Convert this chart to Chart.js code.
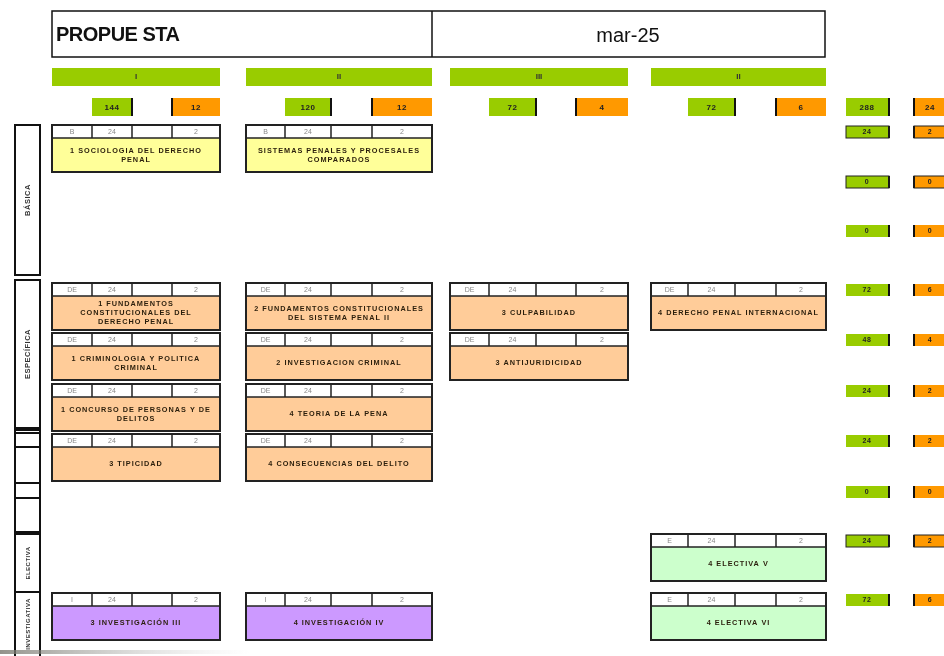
<!DOCTYPE html>
<html><head><meta charset="utf-8">
<script src="https://cdn.jsdelivr.net/npm/chart.js@4"></script>
<style>html,body{margin:0;padding:0;background:#fff}canvas{display:block}</style>
</head><body>
<canvas id="c" width="944" height="656"></canvas>
<script>
// ---------- DATA ----------
const titleLeft = 'PROPUE STA';
const titleRight = 'mar-25';
const semesters = ['I', 'II', 'III', 'II'];
const semesterHours = [144, 120, 72, 72];
const semesterCredits = [12, 12, 4, 6];
const totalHours = 288;
const totalCredits = 24;
const rowHours = [24, 0, 0, 72, 48, 24, 24, 0, 24, 72];
const rowCredits = [2, 0, 0, 6, 4, 2, 2, 0, 2, 6];
const areaNames = ['BÁSICA', 'ESPECÍFICA', '', '', '', 'ELECTIVA', 'INVESTIGATIVA'];
const courseNames = [
  '1 SOCIOLOGIA DEL DERECHO\nPENAL',
  'SISTEMAS PENALES Y PROCESALES\nCOMPARADOS',
  '1 FUNDAMENTOS\nCONSTITUCIONALES DEL\nDERECHO PENAL',
  '2 FUNDAMENTOS CONSTITUCIONALES\nDEL SISTEMA PENAL II',
  '3 CULPABILIDAD',
  '4 DERECHO PENAL INTERNACIONAL',
  '1 CRIMINOLOGIA Y POLITICA\nCRIMINAL',
  '2 INVESTIGACION CRIMINAL',
  '3 ANTIJURIDICIDAD',
  '1 CONCURSO DE PERSONAS Y DE\nDELITOS',
  '4 TEORIA DE LA PENA',
  '3 TIPICIDAD',
  '4 CONSECUENCIAS DEL DELITO',
  '4 ELECTIVA V',
  '3 INVESTIGACIÓN III',
  '4 INVESTIGACIÓN IV',
  '4 ELECTIVA VI'
];
const courseSemester = [0, 1, 0, 1, 2, 3, 0, 1, 2, 0, 1, 0, 1, 3, 0, 1, 3];
const courseRow      = [0, 0, 3, 3, 3, 3, 4, 4, 4, 5, 5, 6, 6, 8, 9, 9, 9];
const courseType     = ['B','B','DE','DE','DE','DE','DE','DE','DE','DE','DE','DE','DE','E','I','I','E'];
const courseHours    = [24, 24, 24, 24, 24, 24, 24, 24, 24, 24, 24, 24, 24, 24, 24, 24, 24];
const courseCredits  = [2, 2, 2, 2, 2, 2, 2, 2, 2, 2, 2, 2, 2, 2, 2, 2, 2];

// ---------- LAYOUT / STYLE (not data) ----------
const colEdges = [[52,92,132,172,220],[246,285,331,372,432],[450,489,536,576,628],[651,688,735,776,826]];
const rowTops = [125,175,224,283,333,384,434,485,534,593];
const areaBoxes = [[125,275],[280,428],[430,433],[433,447],[447,483],[534,592],[592,660]];
const extraLines = [[483,498],[498,532]];
const typeFill = {B:'#FFFF99', DE:'#FFCC99', E:'#CCFFCC', I:'#CC99FF'};
const GREEN = '#99CC00', ORANGE = '#FF9900';
const NARROW = "'Liberation Sans Narrow','Liberation Sans',Arial,sans-serif";

const gridPlugin = {
  id: 'curriculumGrid',
  afterDraw(chart) {
    const ctx = chart.ctx;
    const xs = chart.scales.x, ys = chart.scales.y;
    const X = v => xs.getPixelForValue(v);
    const Y = v => ys.getPixelForValue(v);
    const rect = (x0, y0, x1, y1, fill, stroke, lw) => {
      const px = X(x0), py = Y(y0), w = X(x1) - px, h = Y(y1) - py;
      if (fill) { ctx.fillStyle = fill; ctx.fillRect(px, py, w, h); }
      if (stroke) { ctx.strokeStyle = stroke; ctx.lineWidth = lw || 1; ctx.strokeRect(px, py, w, h); }
    };
    const line = (x0, y0, x1, y1, c, lw) => {
      ctx.beginPath(); ctx.moveTo(X(x0), Y(y0)); ctx.lineTo(X(x1), Y(y1));
      ctx.strokeStyle = c; ctx.lineWidth = lw; ctx.stroke();
    };
    const text = (t, x, y, font, color, align, ls) => {
      ctx.font = font; ctx.fillStyle = color; ctx.textAlign = align || 'center';
      ctx.textBaseline = 'middle'; ctx.letterSpacing = ls || '0px';
      ctx.fillText(t, X(x), Y(y));
      ctx.letterSpacing = '0px';
    };
    ctx.save();
    // Title
    rect(52, 11, 825, 57, null, '#111', 1.5);
    line(432, 11, 432, 57, '#111', 1.5);
    text(titleLeft, 56, 35, "bold 20px " + NARROW, '#111', 'left', '-0.5px');
    text(titleRight, 628, 36, "20px " + NARROW, '#111', 'center');

    // Semester bars and totals
    semesters.forEach((s, i) => {
      const e = colEdges[i];
      rect(e[0], 68, e[4], 86, GREEN);
      text(s, (e[0] + e[4]) / 2, 77, "bold 8px " + NARROW, '#333');
      rect(e[1], 98, e[2], 116, GREEN);
      line(e[2], 98, e[2], 116, '#111', 2);
      text(String(semesterHours[i]), (e[1] + e[2]) / 2, 107.5, "bold 8px " + NARROW, '#222', 'center', '0.5px');
      rect(e[3], 98, e[4], 116, ORANGE);
      line(e[3], 98, e[3], 116, '#111', 2);
      text(String(semesterCredits[i]), (e[3] + e[4]) / 2, 107.5, "bold 8px " + NARROW, '#222', 'center', '0.5px');
    });
    // Grand totals
    rect(846, 98, 889, 116, GREEN); line(889, 98, 889, 116, '#111', 2);
    text(String(totalHours), 867, 107.5, "bold 8px " + NARROW, '#222', 'center', '0.5px');
    rect(914, 98, 960, 116, ORANGE); line(914, 98, 914, 116, '#111', 2);
    text(String(totalCredits), 930, 107.5, "bold 8px " + NARROW, '#222', 'center', '0.5px');

    // Row totals
    rowHours.forEach((h, r) => {
      const y0 = rowTops[r] + 1, y1 = y0 + 12;
      rect(846, y0, 889, y1, GREEN); line(889, y0, 889, y1, '#111', 2);
      if (r < 2 || r === 8) rect(846, y0, 889, y1, null, '#222', 1);
      text(String(h), 867, y0 + 6, "bold 7px " + NARROW, '#222', 'center', '0.5px');
      rect(914, y0, 960, y1, ORANGE); line(914, y0, 914, y1, '#111', 2);
      if (r < 2 || r === 8) rect(914, y0, 960, y1, null, '#222', 1);
      text(String(rowCredits[r]), 930, y0 + 6, "bold 7px " + NARROW, '#222', 'center', '0.5px');
    });

    // Area labels
    areaBoxes.forEach((b, i) => {
      rect(15, b[0], 40, b[1], null, '#111', 2);
      if (areaNames[i]) {
        ctx.save();
        ctx.translate(X(28), Y((b[0] + Math.min(b[1], 656)) / 2));
        ctx.rotate(-Math.PI / 2);
        ctx.font = (i >= 5 ? "bold 6px " : "bold 7.5px ") + NARROW;
        ctx.fillStyle = '#333'; ctx.textAlign = 'center'; ctx.textBaseline = 'middle';
        ctx.letterSpacing = '0.5px';
        ctx.fillText(areaNames[i], 0, 0);
        ctx.restore();
      }
    });
    extraLines.forEach(b => rect(15, b[0], 40, b[1], null, '#111', 2));

    // Courses
    courseNames.forEach((name, k) => {
      const e = colEdges[courseSemester[k]];
      const top = rowTops[courseRow[k]];
      const hb = top + 13, bottom = top + 47;
      rect(e[0], top, e[4], hb, '#fff');
      rect(e[0], hb, e[4], bottom, typeFill[courseType[k]]);
      for (let j = 1; j < 4; j++) line(e[j], top, e[j], hb, '#222', 1.5);
      line(e[0], hb, e[4], hb, '#222', 1.5);
      rect(e[0], top, e[4], bottom, null, '#222', 2);
      const hf = "7px " + NARROW;
      text(courseType[k], (e[0] + e[1]) / 2, top + 7, hf, '#888');
      text(String(courseHours[k]), (e[1] + e[2]) / 2, top + 7, hf, '#888');
      text(String(courseCredits[k]), (e[3] + e[4]) / 2, top + 7, hf, '#888');
      const lines = name.split('\n');
      const cy = (hb + bottom) / 2, lh = 9;
      lines.forEach((ln, li) => {
        text(ln, (e[0] + e[4]) / 2, cy + (li - (lines.length - 1) / 2) * lh,
          "bold 7.3px " + NARROW, '#2a1e0c', 'center', '1px');
      });
    });

    // bottom decorative shade
    const g = ctx.createLinearGradient(X(0), 0, X(250), 0);
    g.addColorStop(0, 'rgba(120,120,110,0.8)'); g.addColorStop(1, 'rgba(200,200,200,0)');
    ctx.fillStyle = g; ctx.fillRect(X(0), Y(650), X(250) - X(0), 4);
    ctx.restore();
  }
};

new Chart(document.getElementById('c'), {
  type: 'scatter',
  data: { datasets: [{ data: [], pointRadius: 0 }] },
  options: {
    responsive: false, animation: false, devicePixelRatio: 1,
    layout: { padding: 0 },
    plugins: { legend: { display: false }, tooltip: { enabled: false } },
    scales: {
      x: { type: 'linear', min: 0, max: 944, display: false },
      y: { type: 'linear', min: 0, max: 656, reverse: true, display: false }
    }
  },
  plugins: [gridPlugin]
});
</script>
</body></html>
